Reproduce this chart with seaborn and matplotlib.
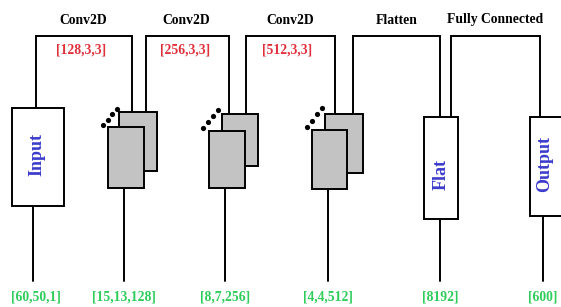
import matplotlib
matplotlib.use("Agg")
import matplotlib.pyplot as plt
from matplotlib.patches import Rectangle
import seaborn as sns
import numpy as np

# ---- data ----
layer_titles = ["Conv2D", "Conv2D", "Conv2D", "Flatten", "Fully Connected"]
filter_labels = ["[128,3,3]", "[256,3,3]", "[512,3,3]"]
shape_labels = ["[60,50,1]", "[15,13,128]", "[8,7,256]", "[4,4,512]", "[8192]", "[600]"]
box_names = ["Input", "", "", "", "Flat", "Output"]

# ---- layout (pixels) ----
W, H = 561, 307
stem_x = [33, 124, 225, 328, 440, 543]
stem_bottom = 281
label_y = 297
# single boxes (x0, y0, x1, y1)
single_boxes = {0: (12, 108, 64, 206), 4: (424, 117, 458, 219), 5: (530, 117, 575, 216)}
name_pos = {0: (37, 155), 4: (441, 175), 5: (545, 164)}
# stacked feature maps: back box, front box, dots start/end
stacks = {
    1: ((119, 112, 157, 171), (108, 127, 144, 188), (103, 125, 117, 109)),
    2: ((222, 114, 258, 166), (209, 131, 245, 188), (203, 128, 218, 110)),
    3: ((325, 114, 363, 173), (312, 130, 347, 189), (307, 127, 322, 108)),
}
# brackets: left x, right x, left bottom, right bottom
brackets = [(36, 132, 108, 113), (146, 229, 112, 114), (246, 335, 114, 114),
            (353, 440, 114, 117), (451, 540, 117, 117)]
bracket_top = 36
title_x = [83, 186, 290, 397, 495]
filter_x = [81, 185, 287]

RED = "#e0303c"
GREEN = "#2ecc5a"
BLUE = "#3c3ccc"
GRAY = "#c3c3c3"
LW = 1.4

sns.set_theme(style="white")
plt.rcParams['font.family'] = ['Liberation Serif', 'DejaVu Serif']

fig = plt.figure(figsize=(W / 100, H / 100), dpi=100)
ax = fig.add_axes([0, 0, 1, 1])
ax.set_xlim(0, W)
ax.set_ylim(H, 0)
ax.axis("off")

def rect(b, face, z):
    x0, y0, x1, y1 = b
    ax.add_patch(Rectangle((x0, y0), x1 - x0, y1 - y0, facecolor=face,
                           edgecolor="black", lw=LW, zorder=z))

# stems
for i, x in enumerate(stem_x):
    if i in single_boxes:
        top = single_boxes[i][3]
    else:
        top = stacks[i][1][3]
    sns.lineplot(x=[x, x], y=[top, stem_bottom], color="black", lw=LW, ax=ax,
                 sort=False, estimator=None)
    ax.text(x + (3 if i == 0 else 0), label_y, shape_labels[i], color=GREEN,
            fontsize=9.8, fontweight="bold", ha="center", va="center")

# brackets
for (xl, xr, yl, yr) in brackets:
    ax.plot([xl, xl, xr, xr], [yl, bracket_top, bracket_top, yr], color="black",
            lw=LW, zorder=1, solid_joinstyle="miter")

for i, t in enumerate(layer_titles):
    ax.text(title_x[i], 20, t, fontsize=9.8, fontweight="bold", ha="center",
            va="center", color="black")
for i, t in enumerate(filter_labels):
    ax.text(filter_x[i], 50, t, fontsize=9.8, fontweight="bold", ha="center",
            va="center", color=RED)

# single boxes
for i, b in single_boxes.items():
    rect(b, "white", 3)
    if box_names[i]:
        x, y = name_pos[i]
        ax.text(x, y, box_names[i], rotation=90, color=BLUE, fontsize=13,
                fontweight="bold", ha="center", va="center", zorder=5)

# stacked boxes
for i, (back, front, dots) in stacks.items():
    rect(back, GRAY, 3)
    rect(front, GRAY, 4)
    x0, y0, x1, y1 = dots
    ax.scatter(np.linspace(x0, x1, 4), np.linspace(y0, y1, 4), s=14,
               color="black", zorder=5, linewidths=0)

fig.savefig("out.png", dpi=100)
